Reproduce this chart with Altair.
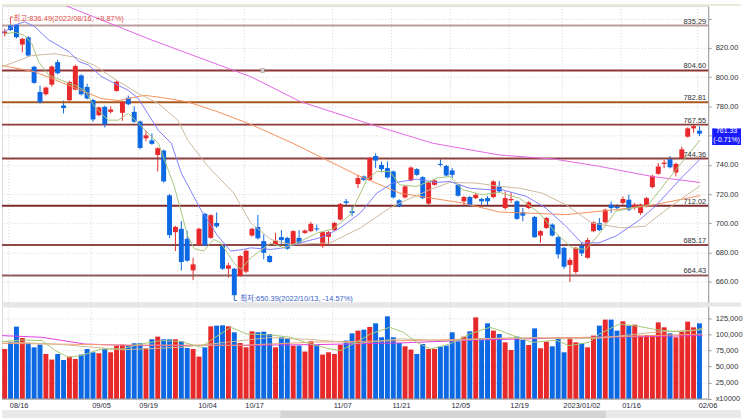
import altair as alt
import pandas as pd

RED = "#e8292b"
BLUE = "#0c69e3"
FONT = "Liberation Sans, Noto Sans CJK KR"
FS = 7.5

# ---------------- price candles (index 0 = 2022/08/12) ----------------
opens = [830.4, 835.4, 835.9, 822.3, 827.3, 807.1, 789.9, 788.3, 794.9, 810.3,
         780.6, 784.2, 791.5, 801.2, 793.3, 784.4, 774.0, 779.7, 776.3, 790.6,
         775.6, 786.0, 776.3, 769.7, 758.2, 756.8, 746.8, 749.8, 719.2, 694.0,
         696.3, 689.5, 667.9, 685.2, 706.5, 690.1, 700.3, 684.9, 669.0, 669.0,
         664.1, 667.0, 691.7, 697.6, 687.9, 677.7, 685.6, 690.6, 690.1, 685.6,
         690.1, 693.5, 694.7, 696.6, 684.5, 690.8, 695.4, 702.6, 715.1, 708.3,
         726.9, 732.1, 729.8, 746.1, 740.0, 737.8, 735.5, 715.8, 717.8, 729.4,
         737.1, 731.6, 713.5, 726.4, 740.7, 739.3, 736.2, 726.4, 715.1, 718.0,
         717.3, 716.7, 717.3, 718.0, 725.3, 710.5, 715.8, 715.1, 707.6, 710.5,
         704.4, 691.7, 696.9, 699.2, 690.6, 683.3, 671.6, 666.8, 684.9, 676.5,
         694.7, 700.3, 700.8, 712.8, 711.2, 714.0, 716.2, 710.5, 707.1, 711.7,
         724.8, 733.9, 740.7, 743.9, 734.8, 744.6, 759.3, 765.0, 763.4]
highs = [833.0, 836.49, 836.2, 826.8, 828.0, 807.8, 794.2, 793.5, 808.0, 811.9,
         784.0, 797.5, 808.5, 802.0, 795.6, 785.2, 780.0, 780.5, 780.0, 797.5,
         783.8, 787.4, 780.0, 770.3, 763.6, 761.6, 752.0, 750.5, 720.0, 698.3,
         701.7, 694.9, 676.5, 697.0, 707.2, 706.3, 707.5, 685.6, 673.1, 669.6,
         678.4, 682.0, 697.0, 705.8, 692.4, 678.5, 693.5, 695.4, 690.8, 695.4,
         695.4, 695.8, 701.0, 699.2, 694.7, 694.7, 701.0, 714.0, 716.7, 711.7,
         733.2, 732.8, 745.3, 748.0, 742.3, 742.3, 736.2, 716.5, 726.0, 739.0,
         737.8, 732.3, 728.7, 730.0, 743.9, 740.0, 737.8, 727.0, 718.7, 718.7,
         720.7, 717.4, 718.7, 729.4, 728.9, 721.9, 721.2, 715.8, 710.5, 715.1,
         705.1, 695.4, 704.4, 700.0, 691.3, 684.0, 676.5, 684.0, 687.2, 690.1,
         701.4, 703.7, 710.1, 715.1, 713.0, 718.5, 719.6, 713.9, 713.5, 718.0,
         733.2, 741.2, 743.4, 746.1, 741.4, 752.5, 765.7, 767.9, 766.5]
lows = [827.8, 831.6, 826.5, 817.1, 814.0, 795.5, 782.0, 787.5, 793.5, 802.0,
        775.2, 783.5, 791.0, 787.5, 784.8, 769.4, 773.3, 765.6, 775.2, 790.0,
        770.2, 780.8, 768.8, 750.7, 756.1, 753.8, 735.5, 728.0, 690.1, 681.1,
        667.7, 673.8, 661.2, 684.5, 684.3, 689.5, 696.9, 668.3, 662.9, 650.39,
        663.4, 666.0, 691.0, 689.0, 675.4, 673.0, 685.0, 685.6, 682.0, 685.0,
        686.0, 692.8, 694.0, 694.7, 683.3, 684.5, 694.8, 702.0, 711.7, 704.9,
        724.1, 729.0, 729.0, 737.8, 734.8, 730.7, 717.0, 711.0, 717.0, 728.7,
        732.5, 716.6, 712.8, 725.8, 738.9, 732.0, 731.0, 718.3, 712.8, 711.4,
        716.6, 712.8, 711.9, 717.3, 721.2, 709.4, 714.0, 702.4, 701.5, 709.8,
        690.0, 686.7, 696.2, 691.0, 675.9, 669.0, 660.0, 665.6, 677.7, 675.9,
        694.0, 694.7, 700.0, 707.1, 709.0, 712.8, 708.3, 709.4, 705.8, 711.0,
        724.0, 733.2, 737.8, 737.7, 732.1, 744.0, 758.6, 762.0, 759.7]
closes = [830.9, 832.3, 827.3, 826.2, 814.8, 796.1, 782.7, 792.9, 807.3, 802.7,
          778.9, 796.7, 807.6, 788.3, 785.4, 771.1, 779.3, 767.6, 777.9, 796.9,
          783.1, 781.5, 769.5, 751.6, 760.2, 754.4, 751.4, 728.7, 692.0, 697.6,
          673.6, 674.5, 672.0, 696.3, 685.0, 705.6, 698.0, 669.0, 671.3, 650.9,
          677.7, 681.3, 696.3, 689.8, 679.9, 673.6, 688.3, 688.6, 682.7, 694.7,
          686.7, 695.1, 699.7, 695.9, 694.0, 694.0, 700.3, 713.3, 714.0, 707.1,
          731.0, 729.8, 744.6, 743.0, 737.1, 731.4, 717.8, 711.7, 725.3, 738.2,
          733.2, 717.3, 728.0, 729.4, 740.0, 732.8, 733.2, 718.9, 718.0, 712.1,
          719.6, 715.1, 715.1, 728.7, 721.9, 717.3, 716.7, 703.1, 705.3, 714.4,
          690.6, 694.7, 703.7, 691.7, 678.8, 670.4, 675.0, 683.3, 679.5, 688.6,
          700.7, 695.4, 709.4, 710.5, 710.8, 716.7, 709.4, 712.8, 712.8, 717.3,
          732.5, 738.9, 741.6, 738.4, 740.7, 750.7, 765.0, 766.5, 761.33]
volumes = [77300, 87600, 111900, 94300, 86600, 79900, 84100, 69600, 60900, 69600,
           60300, 65600, 61900, 68700, 77300, 72200, 70700, 77300, 72200, 82500,
           84100, 82500, 86100, 86100, 78800, 92300, 96400, 92300, 92300, 92300,
           89200, 78800, 77300, 65600, 79900, 112300, 113400, 113900, 112300, 103100,
           86600, 79900, 104600, 103100, 104100, 100400, 79900, 95400, 93800, 82500,
           82500, 73300, 89200, 83500, 68700, 72200, 69600, 83500, 90300, 101500,
           105700, 107200, 111300, 117000, 95400, 127800, 95400, 86600, 81500, 76400,
           69600, 85000, 77300, 77300, 81000, 82500, 103100, 89200, 96400, 104600,
           126200, 93800, 117000, 105700, 100400, 87600, 75800, 96400, 91200, 83500,
           109200, 78400, 88700, 81500, 95400, 72200, 95400, 87600, 86100, 79900,
           98000, 113400, 122700, 122700, 105700, 120000, 113400, 114900, 98000, 98900,
           98900, 118500, 110800, 101500, 95400, 104100, 119600, 110800, 117000]
idx = list(range(len(closes)))

# ---------------- x-axis dates ----------------
date_labels = ["08/16", "09/05", "09/19", "10/04", "10/17", "11/07", "11/21",
               "12/05", "12/19", "2023/01/02", "01/16", "02/06"]
date_index = [1, 15, 23, 33, 41, 56, 66, 76, 86, 95, 105, 118]

# ---------------- horizontal price levels ----------------
level_values = [835.29, 804.60, 782.81, 767.55, 744.36, 712.02, 685.17, 664.43]
level_colors = ["#bb9d9d", "#8e3434", "#a8581c", "#8e3838", "#8e3f3f", "#7e2c2c", "#8e4848", "#8e5a5a"]

# ---------------- price moving averages (read at sample points) ----------------
ma5_i = [0.05, 1.7, 3.4, 4.6, 5.8, 7.5, 9.7, 11.9, 13.6, 15.3, 16.4, 17.6, 19.3, 21.0, 22.7,
         26.1, 28.8, 31.1, 32.2, 33.8, 35.5, 36.7, 38.9, 40.1, 41.8, 45.2, 47.4, 49.7, 53.1,
         55.8, 58.7, 61.5, 63.2, 65.4, 67.1, 70.0, 73.4, 75.6, 77.8, 81.1, 84.0, 87.4, 90.8,
         93.6, 96.3, 98.7, 100.9, 103.8, 106.5, 109.3, 112.2, 114.9, 118.1]
ma5_v = [829.6, 830.7, 828.4, 823.0, 810.3, 801.2, 797.8, 794.4, 791.0, 779.7, 775.2, 770.6,
         770.6, 775.2, 768.4, 754.8, 725.3, 691.3, 682.7, 681.1, 689.0, 686.7, 673.1, 668.6,
         676.5, 686.7, 683.3, 686.7, 693.5, 696.3, 706.0, 729.8, 735.5, 735.5, 726.4, 725.3,
         731.0, 732.1, 723.0, 719.6, 721.2, 717.3, 707.1, 693.5, 683.3, 682.2, 692.4, 708.3,
         710.5, 712.6, 727.6, 741.2, 757.0]
ma10_i = [-0.46, 1.7, 3.4, 5.1, 7.5, 10.9, 12.6, 14.2, 16.4, 19.3, 21.0, 22.7, 26.1, 28.3,
          30.0, 33.3, 36.2, 38.4, 40.6, 41.8, 45.2, 47.4, 50.2, 54.1, 57.0, 60.4, 63.2, 65.9,
          70.0, 73.4, 75.6, 78.9, 82.3, 84.0, 88.6, 91.9, 95.3, 98.0, 100.9, 103.8, 107.7,
          110.5, 114.9, 118.1]
ma10_v = [830.0, 835.6, 837.9, 834.5, 825.4, 817.5, 810.7, 808.4, 800.5, 794.4, 791.0, 785.4,
          763.6, 754.8, 734.4, 709.4, 691.3, 681.1, 682.2, 683.3, 682.2, 683.3, 686.7, 690.8,
          696.9, 707.1, 720.7, 727.6, 730.3, 728.0, 728.7, 724.1, 723.0, 723.5, 718.5, 710.5,
          698.1, 686.7, 686.7, 691.3, 702.0, 711.7, 731.0, 743.9]
ma20_i = [-0.46, 4.6, 8.5, 11.9, 15.3, 18.6, 22.7, 26.1, 29.4, 31.1, 34.5, 38.9, 41.8, 45.2,
          48.5, 55.3, 60.4, 65.4, 67.1, 72.2, 75.6, 80.1, 84.0, 87.4, 91.3, 95.3, 99.7, 104.8,
          108.8, 110.5, 113.9, 118.1]
ma20_v = [807.1, 814.8, 816.0, 813.7, 808.0, 799.0, 788.8, 782.0, 770.6, 756.8, 739.1, 720.7,
          700.3, 689.0, 685.6, 686.7, 696.9, 710.5, 713.9, 723.0, 728.0, 727.6, 725.3, 724.1,
          720.7, 712.8, 700.3, 696.9, 698.1, 703.7, 713.9, 725.7]
ma60_i = [-0.46, 5.1, 10.9, 16.4, 19.3, 23.7, 26.6, 31.1, 36.2, 41.8, 49.0, 59.8, 67.1, 77.8,
          84.0, 95.3, 103.8, 109.3, 118.1]
ma60_v = [808.0, 803.7, 794.4, 785.4, 784.0, 787.6, 786.1, 783.1, 776.3, 767.7, 754.7, 733.2,
          720.7, 713.9, 707.8, 706.0, 709.4, 711.9, 719.0]
ma120_i = [-0.46, 9.7, 24.9, 41.8, 50.2, 62.6, 72.7, 84.0, 93.5, 100.9, 109.9, 118.1]
ma120_v = [865.6, 850.0, 825.5, 800.3, 783.3, 767.2, 754.8, 746.8, 743.9, 739.1, 732.1, 728.0]

# ---------------- volume moving averages ----------------
vma5_i = [-0.5, 3, 6.3, 8.6, 10.8, 13, 16.4, 19.8, 23.2, 26.6, 30, 33.3, 36.2, 38.4, 41.2,
          45.2, 48.5, 51.9, 55.3, 57, 58.7, 62.1, 65.4, 67.7, 70, 72.3, 75.6, 79, 82.4, 84.1,
          86.3, 89.7, 93.6, 95.9, 99.3, 101, 104.4, 107.7, 110.6, 114, 116.8, 118.5]
vma5_v = [88700, 91200, 90300, 74800, 64500, 67100, 77300, 77300, 85000, 90300, 88700, 79900,
          98000, 110800, 100400, 98900, 95400, 85000, 77300, 74800, 82500, 100400, 110800,
          103100, 87600, 77300, 85000, 100400, 110800, 106000, 98000, 87600, 90800, 82500,
          87600, 100400, 115900, 112300, 107200, 104100, 105700, 109200]
vma20_i = [-0.5, 10, 20, 30, 38, 45, 52, 60, 67, 75, 84, 90, 95, 101, 110, 118.5]
vma20_v = [88700, 84000, 76000, 80000, 88000, 95000, 92000, 86000, 93000, 90000, 94000,
           95000, 93000, 94000, 103000, 107000]
vma60_i = [-0.5, 20, 40, 53, 70, 84, 101, 118.5]
vma60_v = [86000, 83500, 83000, 88000, 90500, 93800, 95400, 100400]
vma120_i = [-0.5, 6.3, 13.6, 22, 41.2, 53, 67, 81, 101, 118.5]
vma120_v = [98000, 95400, 85000, 82500, 83000, 84100, 86600, 91400, 95500, 98000]

# ---------------- annotations ----------------
high_idx, high_value = 1, 836.49
high_text = "최고:836.49(2022/08/16, +9.87%)"
low_idx, low_value = 39, 650.39
low_text = "최저:650.39(2022/10/13, -14.57%)"
last_change = "(-0.71%)"
handle_idx = 43.8  # small handle drawn on the 804.60 level

# ---------------- scales / axes ----------------
xs = alt.Scale(domain=[-0.456, 119.48], nice=False, zero=False)
ps = alt.Scale(domain=[645.9, 848.6], nice=False, zero=False)
vs = alt.Scale(domain=[0, 143000], nice=False, zero=False)
W, HP, HV = 710, 298, 93

# the 760 label sits under the current-price box in the reference, so it is left blank
price_axis = alt.Axis(orient="right", values=[660, 680, 700, 720, 740, 760, 780, 800, 820, 840],
                      labelExpr="(datum.value > 830 || datum.value == 760) ? '' : format(datum.value, '.2f')",
                      title=None, labelFont=FONT, labelFontSize=FS, labelColor="#333333",
                      labelPadding=4, tickSize=3, tickColor="#9a9a9a", domainColor="#9a9a9a",
                      grid=True, gridColor="#d6d6d6", gridDash=[1, 2])
vol_axis = alt.Axis(orient="right", values=[0, 25000, 50000, 75000, 100000, 125000],
                    labelExpr="datum.value == 0 ? 'x10000' : format(datum.value, ',')",
                    title=None, labelFont=FONT, labelFontSize=FS, labelColor="#333333",
                    labelPadding=4, tickSize=3, tickColor="#9a9a9a", domainColor="#9a9a9a",
                    grid=True, gridColor="#d6d6d6", gridDash=[1, 2])


def PY(field):
    return alt.Y(field, scale=ps, axis=price_axis)


def VY(field):
    return alt.Y(field, scale=vs, axis=vol_axis)


def X(field):
    return alt.X(field, scale=xs, axis=None)


cdf = pd.DataFrame({"i": idx, "open": opens, "high": highs, "low": lows,
                    "close": closes, "vol": volumes})
base = alt.Chart(cdf).transform_calculate(
    dir="datum.close >= datum.open ? 'up' : 'down'",
    xa="datum.i - 0.42",
    xb="datum.i + 0.42",
    top="max(datum.open, datum.close) + (abs(datum.open - datum.close) < 0.7 ? 0.35 : 0)",
    bot="min(datum.open, datum.close) - (abs(datum.open - datum.close) < 0.7 ? 0.35 : 0)",
)
color = alt.Color("dir:N", scale=alt.Scale(domain=["up", "down"], range=[RED, BLUE]), legend=None)

one = pd.DataFrame({"a": [0]})
top_strip = alt.Chart(one).mark_rect(color="#ebead8").encode(
    x=alt.value(0), x2=alt.value(743), y=alt.value(-2), y2=alt.value(0))

ddf = pd.DataFrame({"g": [d - 0.3 for d in date_index], "label": date_labels})
vgrid = alt.Chart(ddf).mark_rule(color="#d3d3d3", strokeDash=[1, 2]).encode(x=X("g:Q"))

wicks = base.mark_rule(strokeWidth=1).encode(x=X("i:Q"), y=PY("low:Q"), y2="high:Q", color=color)

ldf = pd.DataFrame({"level": level_values, "color": level_colors,
                    "label": [f"{v:.2f}" for v in level_values]})
level_lines = alt.Chart(ldf).mark_rule(strokeWidth=2).encode(
    y=PY("level:Q"), color=alt.Color("color:N", scale=None))
level_text = alt.Chart(ldf).mark_text(align="right", baseline="alphabetic", dy=-2,
                                      font=FONT, fontSize=FS, color="#333333").encode(
    x=alt.value(708), y=PY("level:Q"), text="label:N")
handle = alt.Chart(pd.DataFrame({"i": [handle_idx], "v": [level_values[1]]})).mark_square(
    size=14, filled=True, color="white", stroke="#8a8a8a", strokeWidth=1).encode(
    x=X("i:Q"), y=PY("v:Q"))

bodies = base.mark_rect().encode(x=X("xa:Q"), x2="xb:Q", y=PY("top:Q"), y2="bot:Q", color=color)


def line(i_list, v_list, col, yenc):
    df = pd.DataFrame({"i": i_list, "v": v_list})
    return alt.Chart(df).mark_line(color=col, strokeWidth=1, clip=True).encode(
        x=X("i:Q"), y=yenc("v:Q"))


ma120 = line(ma120_i, ma120_v, "#e466e4", PY)
ma60 = line(ma60_i, ma60_v, "#f4905e", PY)
ma20 = line(ma20_i, ma20_v, "#cdb99c", PY)
ma10 = line(ma10_i, ma10_v, "#8080ff", PY)
ma5 = line(ma5_i, ma5_v, "#a6c47c", PY)

hdf = pd.DataFrame({"i": [high_idx], "v": [high_value], "t": [high_text]})
hb = alt.Chart(hdf).transform_calculate(top="datum.v + 4.6", ie="datum.i + 0.45")
high_v = hb.mark_rule(color="#e24a4a").encode(x=X("i:Q"), y=PY("v:Q"), y2="top:Q")
high_h = hb.mark_rule(color="#e24a4a").encode(x=X("i:Q"), x2="ie:Q", y=PY("top:Q"))
high_t = alt.Chart(hdf).mark_text(align="left", baseline="middle", dx=3, dy=-5, font=FONT,
                                  fontSize=FS, color="#e24a4a").encode(
    x=X("i:Q"), y=PY("v:Q"), text="t:N")

lodf = pd.DataFrame({"i": [low_idx], "v": [low_value], "t": [low_text]})
lb = alt.Chart(lodf).transform_calculate(bot="datum.v - 3.1", ie="datum.i + 0.45")
low_v = lb.mark_rule(color="#3a62c8").encode(x=X("i:Q"), y=PY("v:Q"), y2="bot:Q")
low_h = lb.mark_rule(color="#3a62c8").encode(x=X("i:Q"), x2="ie:Q", y=PY("bot:Q"))
low_t = alt.Chart(lodf).mark_text(align="left", baseline="middle", dx=6, dy=3, font=FONT,
                                  fontSize=FS, color="#3a62c8").encode(
    x=X("i:Q"), y=PY("v:Q"), text="t:N")

last_df = pd.DataFrame({"v": [closes[-1]], "t1": [f"{closes[-1]:.2f}"], "t2": [last_change]})
box = alt.Chart(last_df).mark_point(shape="M-1,-0.576L1,-0.576L1,0.576L-1,0.576Z", size=841,
                                    filled=True, color="#1a1aff", opacity=1, yOffset=3,
                                    strokeWidth=0).encode(x=alt.value(728.5), y=PY("v:Q"))
box_t1 = alt.Chart(last_df).mark_text(font=FONT, fontSize=7, color="white", dy=-2.5).encode(
    x=alt.value(728.5), y=PY("v:Q"), text="t1:N")
box_t2 = alt.Chart(last_df).mark_text(font=FONT, fontSize=7, color="white", dy=6).encode(
    x=alt.value(728.5), y=PY("v:Q"), text="t2:N")

price = alt.layer(top_strip, vgrid, wicks, level_lines, handle, bodies,
                  ma120, ma60, ma20, ma10, ma5, level_text,
                  high_v, high_h, high_t, low_v, low_h, low_t,
                  box, box_t1, box_t2).properties(width=W, height=HP)

# ---------------- volume panel ----------------
sep = alt.Chart(one).mark_rect(color="#e6e6e6").encode(
    x=alt.value(0), x2=alt.value(743), y=alt.value(-4), y2=alt.value(0))
band = alt.Chart(one).mark_rect(color="#e9e9e9").encode(
    x=alt.value(0), x2=alt.value(743), y=alt.value(HV + 11), y2=alt.value(HV + 21))
thumb = alt.Chart(one).mark_rect(color="#d4d4d4").encode(
    x=alt.value(280), x2=alt.value(607), y=alt.value(HV + 12), y2=alt.value(HV + 20))
baseline = alt.Chart(one).mark_rule(color="#9a9a9a").encode(
    x=alt.value(0), x2=alt.value(W), y=alt.value(HV))

vgrid2 = alt.Chart(ddf).mark_rule(color="#d3d3d3", strokeDash=[1, 2]).encode(x=X("g:Q"))
vbars = base.mark_rect().encode(x=X("xa:Q"), x2="xb:Q", y=VY("vol:Q"), y2=alt.datum(0),
                                color=color)
vma120 = line(vma120_i, vma120_v, "#e040e0", VY)
vma60 = line(vma60_i, vma60_v, "#f2a070", VY)
vma20 = line(vma20_i, vma20_v, "#d2b894", VY)
vma5 = line(vma5_i, vma5_v, "#a8c878", VY)
dlabels = alt.Chart(ddf).mark_text(align="left", baseline="middle", dx=1, font=FONT,
                                   fontSize=FS, color="#2a2a3a").encode(
    x=X("g:Q"), y=alt.value(HV + 7), text="label:N")

volume = alt.layer(sep, band, thumb, vgrid2, vbars, vma120, vma60, vma20, vma5,
                   baseline, dlabels).properties(width=W, height=HV)

chart = alt.vconcat(price, volume, spacing=4, bounds="flush").properties(
    padding={"left": 0, "top": 2, "right": 0, "bottom": 0}
).configure_view(stroke=None).configure(background="white")

chart.save("out.html", embed_options={"renderer": "svg", "actions": False})
